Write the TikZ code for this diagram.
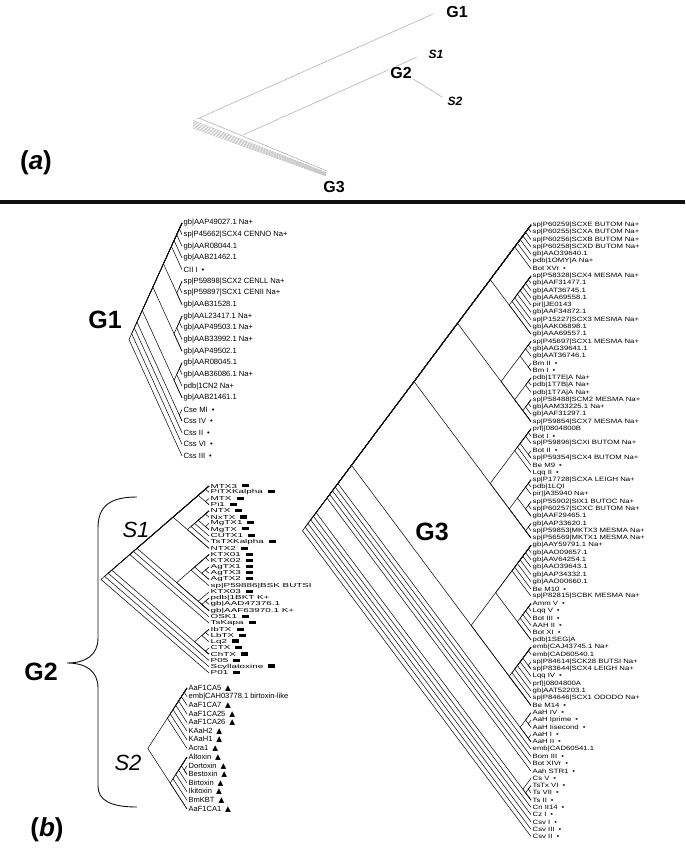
\documentclass[tikz,border=0pt]{standalone}
\usepackage{fontspec}
\setmainfont{Liberation Sans}
\newfontfamily\plainsans{Liberation Sans}
\newfontfamily\widesans[FakeStretch=1.25]{Liberation Sans}
\newfontfamily\xwidesans[FakeStretch=1.7]{Liberation Sans}
\newfontfamily\symsans{DejaVu Sans}
\usetikzlibrary{positioning, calc}
\definecolor{ink}{HTML}{111111}
\definecolor{muted}{HTML}{A8A8A8}
\newcommand{\dt}{\hspace{4pt}•}
\newcommand{\bx}{\hspace{5pt}\rule[0.2ex]{7pt}{3.2pt}}
\newcommand{\tri}{\hspace{4pt}{\symsans ▲}}

\begin{document}
\begin{tikzpicture}[x=1pt, y=-1pt,
  branch/.style={line width=0.55pt, ink},
  faint/.style={line width=0.5pt, muted},
  gone/.style={anchor=west, inner sep=1.5pt, font=\plainsans\fontsize{7.6}{8}\selectfont},
  sone/.style={anchor=west, inner sep=1.5pt, font=\xwidesans\fontsize{5.8}{6}\selectfont},
  stwo/.style={anchor=west, inner sep=1.5pt, font=\plainsans\fontsize{7.5}{8}\selectfont},
  gthree/.style={anchor=west, inner sep=1.5pt, font=\widesans\fontsize{6.2}{7}\selectfont},
  biglbl/.style={inner sep=0pt, font=\bfseries\fontsize{25}{25}\selectfont},
  sublbl/.style={inner sep=0pt, font=\itshape\fontsize{22}{22}\selectfont},
  toplbl/.style={inner sep=1pt, font=\bfseries\fontsize{16}{16}\selectfont},
  topsub/.style={inner sep=0pt, font=\bfseries\itshape\fontsize{12}{12}\selectfont},
  panel/.style={inner sep=0pt, font=\bfseries\fontsize{26}{26}\selectfont}]
  \useasboundingbox (0,0) rectangle (685,856);

  % ---- (a): overview of the three groups ----
  \coordinate (troot) at (195,122);
  \coordinate (tg1e) at (433,14);
  \coordinate (tg3e) at (326,173);
  \coordinate (tg2b) at (243,135);
  \coordinate (tg2n) at (394,67);
  \coordinate (ts1e) at (417,57);
  \coordinate (ts2e) at (442,97);
  \draw[faint] ($(troot)+(2,-3)$) -- (tg1e);
  \foreach \k in {0,...,5}
    \draw[faint, line width=0.35pt] ($(troot)+(-2,{-1.5+1.5*\k})$) -- ($(tg3e)+(0,{-0.5+0.7*\k})$);
  \draw[faint] ($(troot)+(4,-4)$) -- ($(tg3e)+(1,-2)$);
  \draw[faint] (tg2b) -- (ts1e);
  \draw[faint] (tg2n) -- (ts2e);
  \node[toplbl] (tg1) at (457,12) {G1};
  \node[toplbl, fill=white] (tg2) at (401,73) {G2};
  \node[toplbl] (tg3) at (334,187) {G3};
  \node[topsub] (ts1) at (436,54) {S1};
  \node[topsub] (ts2) at (455,101) {S2};
  \node[panel] (pa) at (36,163) {(\textit{a})};

  % ---- separator ----
  \draw[line width=4pt, ink] (0,202) -- (685,202);

  % ---- (b): G1 ----
  \foreach \t [count=\i] in {gb|AAP49027.1 Na+, sp|P45662|SCX4 CENNO Na+,
      gb|AAR08044.1, gb|AAB21462.1, CII I\dt, sp|P59898|SCX2 CENLL Na+,
      sp|P59897|SCX1 CENII Na+, gb|AAB31528.1, gb|AAL23417.1 Na+,
      gb|AAP49503.1 Na+, gb|AAB33992.1 Na+, gb|AAP49502.1, gb|AAR08045.1,
      gb|AAB36086.1 Na+, pdb|1CN2 Na+, gb|AAB21461.1, Cse MI\dt, Css IV\dt,
      Css II\dt, Css VI\dt, Css III\dt}
    \node[gone] (ga-\i) at (182, {223+(\i-1)*11.65}) {\t};
  \foreach \a/\b in {1/2, 1/3, 1/4, 1/5, 6/7, 6/8, 1/8, 9/10, 9/11, 9/12, 1/12,
      13/14, 13/15, 13/16, 1/16, 17/18, 1/18, 1/19, 1/20, 1/21} {
    \coordinate (ga-\a-\b) at ($(ga-\a.west)!0.5!(ga-\b.west)+({-2.65*(\b-\a)},0)$);
    \draw[branch] (ga-\a.west) -- (ga-\a-\b) -- (ga-\b.west);
  }
  \node[biglbl] (lg1) at (105,320) {G1};

  % ---- G2, subgroup S1 ----
  \foreach \t [count=\i] in {MTX3\bx, PiTXKalpha\bx, MTX\bx, Pi1\bx, NTX\bx,
      NxTX\bx, MgTX1\bx, MgTX\bx, CUTX1\bx, TsTXKalpha\bx, NTX2\bx, KTX01\bx,
      KTX02\bx, AgTX1\bx, AgTX3\bx, AgTX2\bx, sp|P59886|BSK BUTSI, KTX03\bx,
      pdb|1BKT K+, gb|AAD47376.1, gb|AAF63970.1 K+, OSK1\bx, TsKapa\bx,
      IbTX\bx, LbTX\bx, Lq2\bx, CTX\bx, ChTX\bx, P05\bx, Scyllatoxine\bx, P01\bx}
    \node[sone] (sa-\i) at (209, {486+(\i-1)*6.23}) {\t};
  \foreach \a/\b in {1/2, 3/4, 1/4, 5/6, 7/8, 5/8, 5/9, 5/10, 5/11, 1/11,
      12/13, 14/15, 14/16, 12/16, 12/17, 19/20, 19/21, 18/21, 12/21, 1/21,
      1/22, 1/23, 24/25, 24/26, 27/28, 24/28, 1/28, 1/29, 1/30, 1/31} {
    \coordinate (sa-\a-\b) at ($(sa-\a.west)!0.5!(sa-\b.west)+({-3.6*(\b-\a)},0)$);
    \draw[branch] (sa-\a.west) -- (sa-\a-\b) -- (sa-\b.west);
  }

  % ---- G2, subgroup S2 ----
  \foreach \t [count=\i] in {AaF1CA5\tri, emb|CAH03778.1 birtoxin-like,
      AaF1CA7\tri, AaF1CA25\tri, AaF1CA26\tri, KAaH2\tri, KAaH1\tri, Acra1\tri,
      Altoxin\tri, Dortoxin\tri, Bestoxin\tri, Birtoxin\tri, Ikitoxin\tri,
      BmKBT\tri, AaF1CA1\tri}
    \node[stwo] (sb-\i) at (187, {688+(\i-1)*8.64}) {\t};
  \foreach \a/\b in {1/2, 1/3, 1/4, 1/5, 1/6, 1/7, 1/8, 10/11, 9/11, 9/12,
      9/13, 9/14, 9/15, 1/15} {
    \coordinate (sb-\a-\b) at ($(sb-\a.west)!0.5!(sb-\b.west)+({-2.8*(\b-\a)},0)$);
    \draw[branch] (sb-\a.west) -- (sb-\a-\b) -- (sb-\b.west);
  }

  % ---- brace round G2 ----
  \coordinate (brtop) at (137,497);
  \coordinate (brmid) at (67,663);
  \coordinate (brbot) at (137,807);
  \draw[ink, line width=0.9pt] (brtop) .. controls (110,497) and (98,506) .. (98,528)
        -- (98,638) .. controls (98,655) and (86,663) .. (brmid)
        .. controls (86,663) and (98,671) .. (98,688)
        -- (98,786) .. controls (98,800) and (110,807) .. (brbot);
  \node[biglbl] (lg2) at (41,672) {G2};
  \node[sublbl] (ls1) at (136,530) {S1};
  \node[sublbl] (ls2) at (128,763) {S2};

  % ---- G3 ----
  \foreach \t [count=\i] in {sp|P60259|SCXE BUTOM Na+, sp|P60255|SCXA BUTOM Na+,
      sp|P60256|SCXB BUTOM Na+, sp|P60258|SCXD BUTOM Na+, gb|AAO39640.1,
      pdb|1OMY|A Na+, Bot XVr\dt, sp|P58328|SCX4 MESMA Na+, gb|AAF31477.1,
      gb|AAT36745.1, gb|AAA69558.1, pir||JE0143, gb|AAF34872.1,
      sp|P15227|SCX3 MESMA Na+, gb|AAK06898.1, gb|AAA69557.1,
      sp|P45697|SCX1 MESMA Na+, gb|AAG39641.1, gb|AAT36746.1, Bm II\dt, Bm I\dt,
      pdb|1T7E|A Na+, pdb|1T7B|A Na+, pdb|1T7A|A Na+, sp|P58488|SCM2 MESMA Na+,
      gb|AAM33225.1 Na+, gb|AAF31297.1, sp|P59854|SCX7 MESMA Na+, prf||0804800B,
      Bot I\dt, sp|P59896|SCXI BUTOM Na+, Bot II\dt, sp|P59354|SCX4 BUTOM Na+,
      Be M9\dt, Lqq II\dt, sp|P17728|SCXA LEIGH Na+, pdb|1LQI, pir||A35940 Na+,
      sp|P55902|SIX1 BUTOC Na+, sp|P60257|SCXC BUTOM Na+, gb|AAF29465.1,
      gb|AAP33620.1, sp|P59853|MKTX3 MESMA Na+, sp|P56569|MKTX1 MESMA Na+,
      gb|AAY59791.1 Na+, gb|AAO09657.1, gb|AAV64254.1, gb|AAO39643.1,
      gb|AAP34332.1, gb|AAO00660.1, Be M10\dt, sp|P82815|SCBK MESMA Na+,
      Amm V\dt, Lqq V\dt, Bot III\dt, AAH II\dt, Bot XI\dt, pdb|1SEG|A,
      emb|CAJ43745.1 Na+, emb|CAD60540.1, sp|P84614|SCK28 BUTSI Na+,
      sp|P83644|SCX4 LEIGH Na+, Lqq IV\dt, prf||0804800A, gb|AAT52203.1,
      sp|P84646|SCX1 ODODO Na+, Be M14\dt, AaH IV\dt, AaH Iprime\dt,
      AaH Iisecond\dt, AaH I\dt, AaH II\dt, emb|CAD60541.1, Bom III\dt,
      Bot XIVr\dt, Aah STR1\dt, Cs V\dt, TsTx VI\dt, Ts VII\dt, Ts II\dt,
      Cn II14\dt, Cz I\dt, Csv I\dt, Csv III\dt, Csv II\dt}
    \node[gthree] (gc-\i) at (531, {225+(\i-1)*7.28}) {\t};
  \foreach \a/\b in {1/2, 1/3, 1/4, 1/5, 1/6, 1/7, 8/9, 8/10, 8/11, 8/12, 8/13,
      8/14, 8/15, 8/16, 1/16, 17/18, 17/19, 20/21, 17/21, 22/23, 22/24, 25/26,
      25/27, 25/28, 22/28, 17/28, 1/28, 29/30, 29/31, 32/33, 29/33, 29/34,
      29/35, 36/37, 36/38, 39/40, 39/41, 36/41, 42/43, 42/44, 36/44, 29/44,
      1/44, 45/46, 45/47, 45/48, 45/49, 45/50, 45/51, 45/52, 53/54, 53/55,
      53/56, 53/57, 53/58, 45/58, 59/60, 61/62, 59/62, 59/63, 59/64, 59/65,
      59/66, 59/67, 45/67, 1/67, 69/70, 68/70, 71/72, 68/72, 1/72, 1/73, 1/74,
      1/75, 1/76, 78/79, 78/80, 77/80, 1/80, 1/81, 1/82, 1/83, 1/84, 1/85} {
    \coordinate (gc-\a-\b) at ($(gc-\a.west)!0.5!(gc-\b.west)+({-2.72*(\b-\a)},0)$);
    \draw[branch] (gc-\a.west) -- (gc-\a-\b) -- (gc-\b.west);
  }
  \node[biglbl] (lg3) at (432,532) {G3};

  \node[panel] (pb) at (47,830) {(\textit{b})};
\end{tikzpicture}
\end{document}
